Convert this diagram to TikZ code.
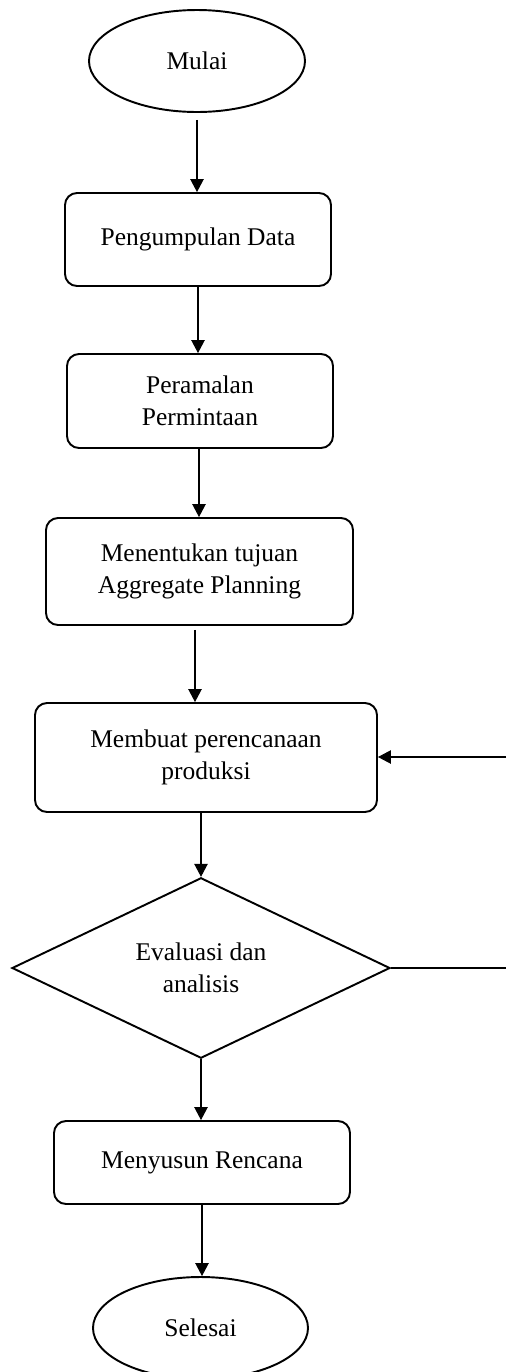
\documentclass[tikz,border=0pt]{standalone}
\usepackage{fontspec}
\setmainfont{Liberation Serif}
\usetikzlibrary{shapes.geometric, arrows.meta}
\tikzset{
  every node/.style={font=\fontsize{14.5}{18}\selectfont},
  proses/.style={draw, line width=1.1pt, rounded corners=0.24cm, align=center, inner sep=0pt},
  terminal/.style={draw, ellipse, line width=1.1pt, inner sep=0pt},
  keputusan/.style={draw, diamond, line width=1.1pt, inner sep=0pt, align=center},
  panah/.style={-{Triangle[length=0.26cm, width=0.27cm]}, line width=0.6pt}
}

\begin{document}
\begin{tikzpicture}
        \useasboundingbox (0,0) rectangle (10.12,-27.44);

        % Flowchart nodes
        \node[terminal, minimum width=4.32cm, minimum height=2.04cm] (mulai) at (3.94,-1.22) {Mulai};
        \node[proses, minimum width=5.32cm, minimum height=1.86cm] (data) at (3.96,-4.79) {Pengumpulan Data};
        \node[proses, minimum width=5.32cm, minimum height=1.88cm] (ramal) at (4.00,-8.02) {Peramalan\\Permintaan};
        \node[proses, minimum width=6.14cm, minimum height=2.14cm] (tujuan) at (3.99,-11.43) {Menentukan tujuan\\Aggregate Planning};
        \node[proses, minimum width=6.84cm, minimum height=2.18cm] (produksi) at (4.12,-15.15) {Membuat perencanaan\\produksi};
        \node[keputusan, minimum width=7.56cm, minimum height=3.40cm] (evaluasi) at (4.02,-19.36) {Evaluasi dan\\analisis};
        \node[proses, minimum width=5.92cm, minimum height=1.66cm] (susun) at (4.04,-23.25) {Menyusun Rencana};
        \node[terminal, minimum width=4.30cm, minimum height=2.04cm] (selesai) at (4.01,-26.56) {Selesai};

        % Arrows between steps
        \draw[panah, shorten <=0.14cm] (mulai.south) -- (mulai.south |- data.north);
        \draw[panah] (data.south) -- (data.south |- ramal.north);
        \draw[panah] ([xshift=-0.02cm]ramal.south) -- ([xshift=-0.02cm]ramal.south |- tujuan.north);
        \draw[panah, shorten <=0.08cm] ([xshift=-0.09cm]tujuan.south) -- ([xshift=-0.09cm]tujuan.south |- produksi.north);
        \draw[panah] (evaluasi.north |- produksi.south) -- (evaluasi.north);
        \draw[panah] (evaluasi.south) -- (evaluasi.south |- susun.north);
        \draw[panah] (susun.south) -- (susun.south |- selesai.north);

        % Feedback line on the right
        \coordinate (balikBawah) at (10.12,-19.36);
        \coordinate (balikAtas) at (10.12,-15.14);
        \draw[line width=0.6pt] (evaluasi.east) -- (balikBawah);
        \draw[panah] (balikAtas) -- (balikAtas -| produksi.east);
\end{tikzpicture}
\end{document}
